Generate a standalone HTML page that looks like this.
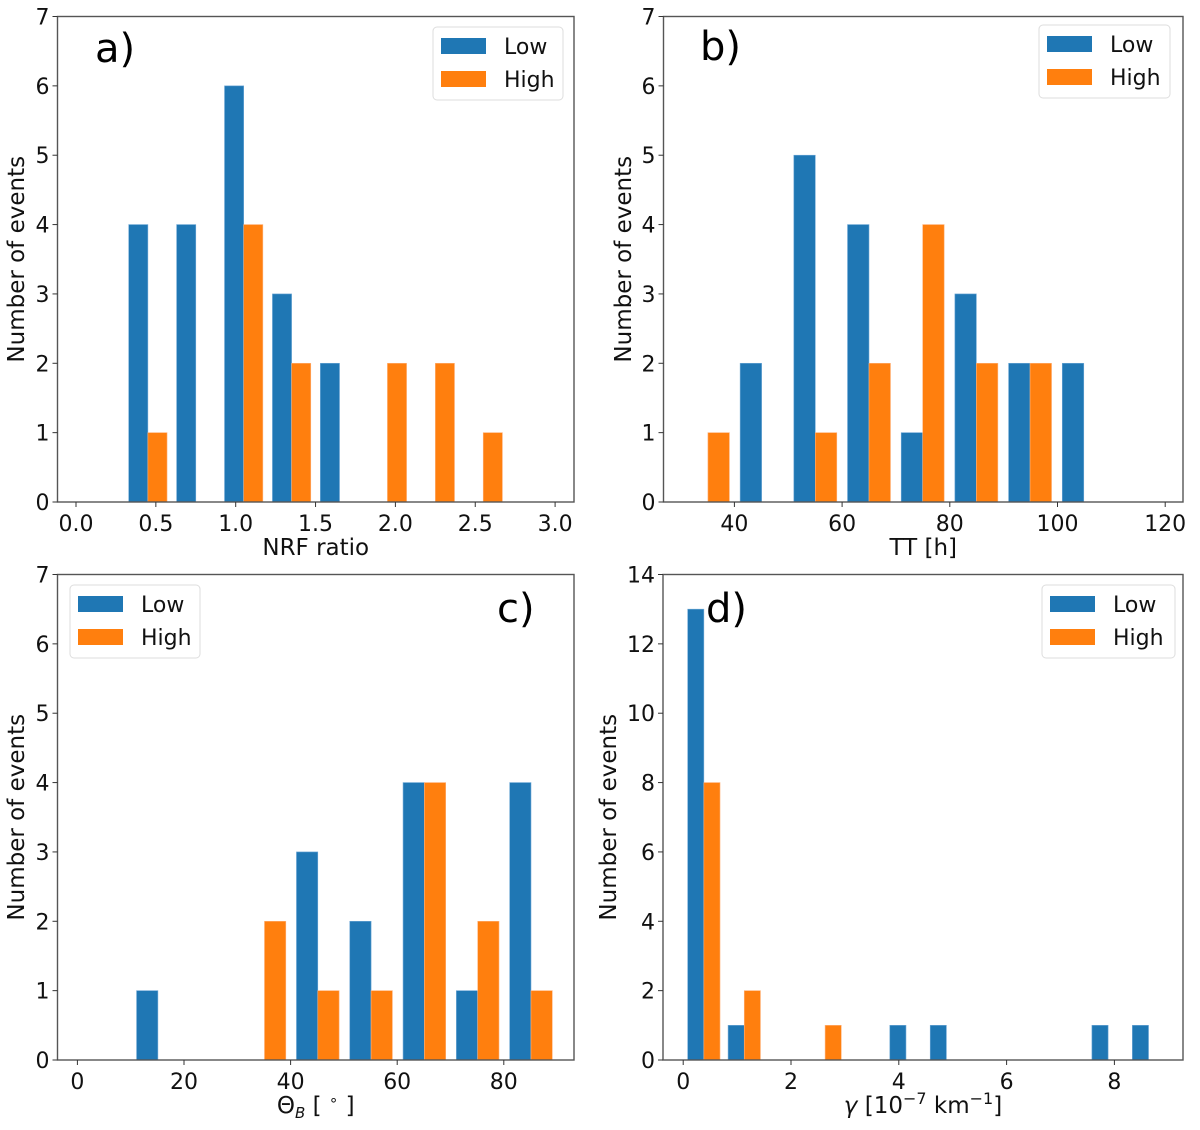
<!DOCTYPE html>
<html><head><meta charset="utf-8">
<style>
html,body{margin:0;padding:0;background:#fff;}
svg{display:block;font-family:"DejaVu Sans","Liberation Sans",sans-serif;}
</style></head>
<body>
<svg id="fig" width="1200" height="1130" viewBox="0 0 1200 1130" xmlns="http://www.w3.org/2000/svg"></svg>
<script>
// Panel a data (NRF ratio)
const aBinStarts = [0.3,0.6,0.9,1.2,1.5,1.8,2.1,2.4];
const aLow  = [4,4,6,3,2,0,0,0];
const aHigh = [1,0,4,2,0,2,2,1];
const aXTicks = [0.0,0.5,1.0,1.5,2.0,2.5,3.0];
const aXTickLabels = ["0.0","0.5","1.0","1.5","2.0","2.5","3.0"];
// Panel b data (TT)
const bBinStarts = [30.1,40.07,50.04,60.01,69.98,79.95,89.92,99.89];
const bLow  = [0,2,5,4,1,3,2,2];
const bHigh = [1,0,1,2,4,2,2,0];
const bXTicks = [40,60,80,100,120];
// Panel c data (Theta_B)
const cBinStarts = [10.1,20.1,30.1,40.1,50.1,60.1,70.1,80.1];
const cLow  = [1,0,0,3,2,4,1,4];
const cHigh = [0,0,2,1,1,4,2,1];
const cXTicks = [0,20,40,60,80];
// Panel d data (gamma)
const dBinStarts = [0.008,0.758,1.508,2.258,3.008,3.758,4.508,5.258,6.008,6.758,7.508,8.258];
const dLow  = [13,1,0,0,0,1,1,0,0,0,1,1];
const dHigh = [8,2,0,1,0,0,0,0,0,0,0,0];
const dXTicks = [0,2,4,6,8];
const yTicks7 = [0,1,2,3,4,5,6,7];
const yTicks14 = [0,2,4,6,8,10,12,14];

const NS="http://www.w3.org/2000/svg";
const svg=document.getElementById('fig');
function mk(tag,attrs,parent){const e=document.createElementNS(NS,tag);for(const k in attrs)e.setAttribute(k,attrs[k]);(parent||svg).appendChild(e);return e;}

function panel(p){
  const g=mk('g',{});
  
  
  const sx=v=>p.x0px+(v-p.x0v)*p.kx;
  const sy=v=>p.bottom-(v/p.ymax)*(p.bottom-p.top);
  const w=p.binW;
  for(let i=0;i<p.bins.length;i++){
    const a=p.bins[i];
    if(p.low[i]>0){
      const r=mk('rect',{x:sx(a+0.1*w),y:sy(p.low[i]),width:sx(a+0.5*w)-sx(a+0.1*w),height:sy(0)-sy(p.low[i]),fill:'#1f77b4',stroke:'#6fa8d6','stroke-width':0.6},g);
      
      
    }
    if(p.high[i]>0){
      const r=mk('rect',{x:sx(a+0.5*w),y:sy(p.high[i]),width:sx(a+0.9*w)-sx(a+0.5*w),height:sy(0)-sy(p.high[i]),fill:'#ff7f0e',stroke:'#ffb27a','stroke-width':0.6},g);
      
      
    }
  }
  const fr=mk('rect',{x:p.left,y:p.top,width:p.right-p.left,height:p.bottom-p.top,fill:'none',stroke:'#555','stroke-width':1.4},g);
  
  
  p.xt.forEach((t,i)=>{
    const x=sx(t);
    mk('line',{x1:x,x2:x,y1:p.bottom,y2:p.bottom+5,stroke:'#333','stroke-width':1},g);
    const tx=mk('text',{x:x,y:p.bottom+29,'font-size':22,'text-anchor':'middle',fill:'#111'},g);
    tx.textContent=p.xtl?p.xtl[i]:String(t);
    
    
  });
  p.yt.forEach(t=>{
    const y=sy(t);
    mk('line',{x1:p.left-5,x2:p.left,y1:y,y2:y,stroke:'#333','stroke-width':1},g);
    const tx=mk('text',{x:p.left-8,y:y+8,'font-size':22,'text-anchor':'end',fill:'#111'},g);
    tx.textContent=String(t);
    
    
  });
  const xt=mk('text',{x:(p.left+p.right)/2,y:p.bottom+53,'font-size':23,'text-anchor':'middle',fill:'#111'},g);
  xt.innerHTML=p.xtitle;
  
  
  const yx=p.ytx, yy=(p.top+p.bottom)/2;
  const yt=mk('text',{x:yx,y:yy,'font-size':23,'text-anchor':'middle',fill:'#111',transform:`rotate(-90 ${yx} ${yy})`},g);
  yt.textContent='Number of events';
  
  
  const pl=mk('text',{x:p.lab[0],y:p.lab[1],'font-size':40,fill:'#000'},g);
  pl.textContent=p.id+')';
  
  
  const L=p.leg;
  const lg=mk('g',{},g);
  
  
  mk('rect',{x:L[0],y:L[1],width:L[2],height:73,rx:4,fill:'#fff',stroke:'#ddd','stroke-width':1},lg);
  mk('rect',{x:L[0]+8,y:L[1]+11,width:45,height:16,fill:'#1f77b4'},lg);
  mk('rect',{x:L[0]+8,y:L[1]+44,width:45,height:16,fill:'#ff7f0e'},lg);
  const t1=mk('text',{x:L[0]+71,y:L[1]+27,'font-size':22,fill:'#111'},lg);t1.textContent='Low';
  
  
  const t2=mk('text',{x:L[0]+71,y:L[1]+60,'font-size':22,fill:'#111'},lg);t2.textContent='High';
  
  
}

panel({id:'a',left:57.5,right:574,top:16.5,bottom:502,ymax:7,x0v:0,x0px:76,kx:159.7,binW:0.3,bins:aBinStarts,low:aLow,high:aHigh,xt:aXTicks,xtl:aXTickLabels,yt:yTicks7,xtitle:'NRF ratio',ytx:24,lab:[95,62],leg:[433,27,130]});
panel({id:'b',left:663.5,right:1183,top:16.5,bottom:502,ymax:7,x0v:40,x0px:734.4,kx:5.385,binW:9.97,bins:bBinStarts,low:bLow,high:bHigh,xt:bXTicks,yt:yTicks7,xtitle:'TT [h]',ytx:631,lab:[700,60],leg:[1039,25,131]});
panel({id:'c',left:57.5,right:574,top:574.5,bottom:1060,ymax:7,x0v:0,x0px:77.4,kx:5.33,binW:10,bins:cBinStarts,low:cLow,high:cHigh,xt:cXTicks,yt:yTicks7,xtitle:'Θ<tspan font-size="15" font-style="italic" dy="5">B</tspan><tspan dy="-5"> [ </tspan><tspan font-size="15" dy="-8">∘</tspan><tspan dy="8"> ]</tspan>',ytx:24,lab:[497,622],leg:[70,585,130]});
panel({id:'d',left:663,right:1183,top:574.5,bottom:1060,ymax:14,x0v:0,x0px:683.2,kx:53.9,binW:0.75,bins:dBinStarts,low:dLow,high:dHigh,xt:dXTicks,yt:yTicks14,xtitle:'<tspan font-style="italic">γ</tspan> [10<tspan font-size="16" dy="-9">−7</tspan><tspan dy="9"> km</tspan><tspan font-size="16" dy="-9">−1</tspan><tspan dy="9">]</tspan>',ytx:616,lab:[706,622],leg:[1042,585,133]});
</script>
</body></html>
